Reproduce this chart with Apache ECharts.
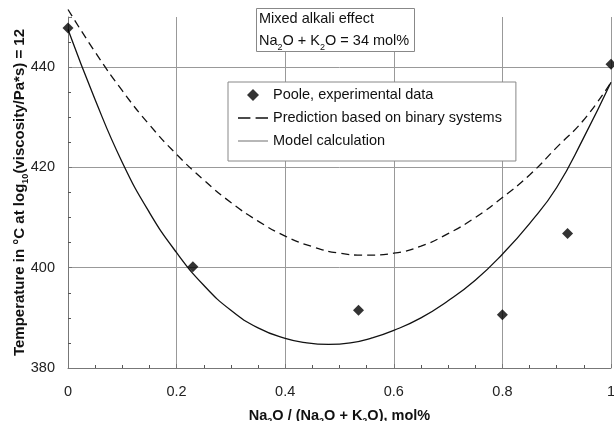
<!DOCTYPE html>
<html>
<head>
<meta charset="utf-8">
<script src="https://cdn.jsdelivr.net/npm/echarts@6/dist/echarts.min.js"></script>
<style>html,body{margin:0;padding:0;background:#fff;overflow:hidden}#c{width:614px;height:421px}</style>
</head>
<body>
<div id="c"></div>
<script>
// Composition Na2O/(Na2O+K2O)
const xVals = [0, 0.05, 0.1, 0.15, 0.2, 0.25, 0.3, 0.35, 0.4, 0.44, 0.48, 0.52, 0.56, 0.6, 0.65, 0.7, 0.75, 0.8, 0.85, 0.9, 0.95, 1.0];
// Model calculation (solid)
const modelT = [447.5, 433.5, 421, 411, 403, 396.5, 391.5, 388, 385.9, 385.0, 384.7, 385.0, 386.0, 387.5, 390, 393.4, 397.5, 402.7, 408.8, 416, 426, 437];
// Prediction based on binary systems (dashed)
const predX = [0, 0.05, 0.1, 0.15, 0.2, 0.25, 0.3, 0.35, 0.4, 0.45, 0.5, 0.55, 0.6, 0.65, 0.7, 0.75, 0.8, 0.85, 0.9, 0.95, 1.0];
const predT = [451.5, 443, 435.3, 428.5, 422.6, 417.5, 413, 409.3, 406.3, 404.2, 402.9, 402.5, 402.9, 404.3, 406.8, 410, 414, 418.5, 424, 429.5, 437];
// Poole, experimental data
const expX = [0, 0.23, 0.535, 0.8, 0.92, 1];
const expT = [447.8, 400.2, 391.5, 390.6, 406.8, 440.6];
// Axis ticks
const xTicks = [0, 0.2, 0.4, 0.6, 0.8, 1];
const yTicks = [380, 400, 420, 440];

const pair = (xs, ys) => xs.map((x, i) => [x, ys[i]]);
const chart = echarts.init(document.getElementById('c'));
const font = 'Liberation Sans, Arial, sans-serif';
const nameRich = (fs) => ({
  b: {fontSize: fs, fontWeight: 'bold', color: '#111', lineHeight: 17, fontFamily: font},
  s: {fontSize: Math.round(fs * 0.62), fontWeight: 'bold', color: '#111', lineHeight: 20, verticalAlign: 'bottom', fontFamily: font}
});
chart.setOption({
  animation: false,
  textStyle: {fontFamily: font},
  grid: {left: 68, right: 3, top: 17, bottom: 53, outerBoundsMode: 'none', containLabel: false},
  title: {
    text: '{n|Mixed alkali effect}\n{n|Na}{s|2}{n|O + K}{s|2}{n|O = 34 mol%}',
    left: 256, top: 8,
    padding: [1, 6, 0, 3],
    backgroundColor: '#fff',
    borderColor: '#888', borderWidth: 1,
    textStyle: {
      fontSize: 14.5, fontWeight: 'normal', color: '#111', lineHeight: 20, fontFamily: font,
      rich: {
        n: {fontSize: 14.5, color: '#111', lineHeight: 20, fontFamily: font},
        s: {fontSize: 9, color: '#111', lineHeight: 23, verticalAlign: 'bottom', fontFamily: font}
      }
    }
  },
  legend: {
    left: 228, top: 82, orient: 'vertical',
    backgroundColor: '#fff', borderColor: '#888', borderWidth: 1,
    padding: [5, 14, 12, 10],
    itemWidth: 30, itemHeight: 12, itemGap: 7,
    symbolKeepAspect: true,
    textStyle: {fontSize: 14.5, color: '#111', fontFamily: font, lineHeight: 16},
    data: [
      {name: 'Poole, experimental data', icon: 'path://M5,0L10,5L5,10L0,5Z', itemStyle: {color: '#000'}},
      {name: 'Prediction based on binary systems', icon: 'path://M0,0h12v1.6h-12zM17,0h12v1.6h-12z', itemStyle: {color: '#111'}},
      {name: 'Model calculation', icon: 'path://M0,0h30v1.2h-30z', itemStyle: {color: '#888'}}
    ]
  },
  xAxis: {
    type: 'value', min: 0, max: 1, interval: 0.2,
    name: '{b|Na}{s|2}{b|O / (Na}{s|2}{b|O + K}{s|2}{b|O), mol%}',
    nameLocation: 'middle', nameGap: 38, nameMoveOverlap: false,
    nameTextStyle: {rich: nameRich(14.5)},
    axisLine: {lineStyle: {color: '#777', width: 1}},
    axisTick: {inside: true, length: 4, lineStyle: {color: '#777'}},
    minorTick: {show: true, splitNumber: 4, length: 3, lineStyle: {color: '#555'}},
    axisLabel: {fontSize: 14.5, color: '#222', margin: 16, formatter: v => xTicks.includes(+v.toFixed(2)) ? String(+v.toFixed(2)) : ''},
    splitLine: {show: true, lineStyle: {color: '#999', width: 1}}
  },
  yAxis: {
    type: 'value', min: 380, max: 450, interval: 20,
    name: '{b|Temperature in °C at log}{s|10}{b|(viscosity/Pa*s) = 12}',
    nameLocation: 'middle', nameGap: 38, nameRotate: 90, nameMoveOverlap: false,
    nameTextStyle: {rich: nameRich(15)},
    axisLine: {show: true, lineStyle: {color: '#777', width: 1}},
    axisTick: {inside: true, length: 4, lineStyle: {color: '#777'}},
    minorTick: {show: true, splitNumber: 4, length: 3, lineStyle: {color: '#555'}},
    axisLabel: {fontSize: 14.5, color: '#222', margin: 13, formatter: v => yTicks.includes(v) ? String(v) : ''},
    splitLine: {show: true, showMaxLine: false, lineStyle: {color: '#999', width: 1}}
  },
  series: [
    {
      name: 'Poole, experimental data', type: 'scatter', symbol: 'diamond', symbolSize: 11,
      itemStyle: {color: '#000'}, data: pair(expX, expT), z: 5, clip: false
    },
    {
      name: 'Prediction based on binary systems', type: 'line', smooth: true, symbol: 'none', clip: false,
      lineStyle: {color: '#111', width: 1.3, type: [8, 5]}, itemStyle: {color: '#111'},
      data: pair(predX, predT)
    },
    {
      name: 'Model calculation', type: 'line', smooth: true, symbol: 'none', clip: false,
      lineStyle: {color: '#111', width: 1.3}, itemStyle: {color: '#111'},
      data: pair(xVals, modelT)
    }
  ]
});
</script>
</body>
</html>
